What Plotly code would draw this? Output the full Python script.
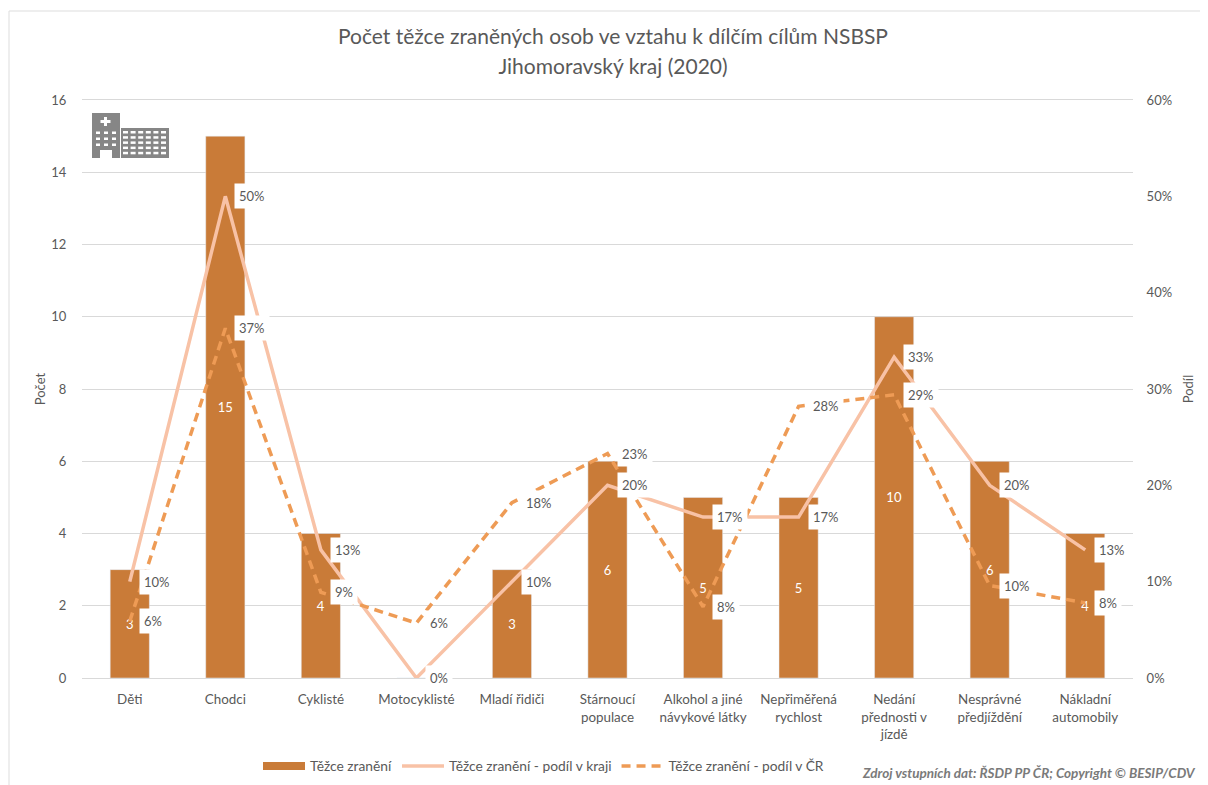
import plotly.graph_objects as go

categories = ["Děti", "Chodci", "Cyklisté", "Motocyklisté", "Mladí řidiči", "Stárnoucí<br>populace",
              "Alkohol a jiné<br>návykové látky", "Nepřiměřená<br>rychlost", "Nedání<br>přednosti v<br>jízdě",
              "Nesprávné<br>předjíždění", "Nákladní<br>automobily"]
injured = [3, 15, 4, 0, 3, 6, 5, 5, 10, 6, 4]
share_region = [0.10, 0.50, 0.133, 0.0, 0.10, 0.20, 0.167, 0.167, 0.333, 0.20, 0.133]
share_cr = [0.059, 0.363, 0.089, 0.057, 0.182, 0.233, 0.074, 0.282, 0.294, 0.096, 0.078]
labels_region = ["10%", "50%", "13%", "0%", "10%", "20%", "17%", "17%", "33%", "20%", "13%"]
labels_cr = ["6%", "37%", "9%", "6%", "18%", "23%", "8%", "28%", "29%", "10%", "8%"]

FONT = "Lato, 'Open Sans', sans-serif"
TXT = "#595959"
BAR = "#C97B38"
C1 = "#F8C2A6"
C2 = "#EE9B55"
FS = 13

OFF = 8  # page body margin
L, R, T, B = 82, 1133, 100, 678
W, H = 1208 - OFF, 785 - OFF
px = lambda v: (v - L) / (R - L)
py = lambda v: 1 - (v - T) / (B - T)

fig = go.Figure()
fig.add_trace(go.Bar(x=categories, y=injured, marker_color=BAR, width=0.41, showlegend=False,
                     text=[str(v) if v else "" for v in injured], textposition="inside",
                     insidetextanchor="middle", textangle=0,
                     insidetextfont=dict(color="white", size=FS, family=FONT), yaxis="y", cliponaxis=False))
fig.add_trace(go.Scatter(x=[categories[0]], y=[None], mode="lines", name="Těžce zranění",
                         line=dict(color=BAR, width=8)))
fig.add_trace(go.Scatter(x=categories, y=share_region, mode="lines", name="Těžce zranění - podíl v kraji",
                         yaxis="y2", line=dict(color=C1, width=3.5), cliponaxis=False))
fig.add_trace(go.Scatter(x=categories, y=share_cr, mode="lines", name="Těžce zranění - podíl v ČR",
                         yaxis="y2", line=dict(color=C2, width=3.5, dash="9px,6px"), cliponaxis=False))

annotations = []
for vals, labs in ((share_region, labels_region), (share_cr, labels_cr)):
    for c, v, l in zip(categories, vals, labs):
        annotations.append(dict(x=c, y=v, xref="x", yref="y2", text=l, showarrow=False, xanchor="left",
                                xshift=9, yshift=0, bgcolor="white", borderpad=4,
                                font=dict(size=FS, color=TXT, family=FONT)))
annotations.append(dict(x=1, y=0, xref="paper", yref="paper", xanchor="right", yanchor="middle",
                        xshift=65, yshift=-95, showarrow=False,
                        text="<b><i>Zdroj vstupních dat: ŘSDP PP ČR; Copyright © BESIP/CDV</i></b>",
                        font=dict(size=13.5, color="#7a7a7a", family=FONT)))

# hospital pictogram and frame
shapes = [dict(type="line", xref="paper", yref="paper", x0=px(9), x1=px(9), y0=py(11), y1=py(785),
               line=dict(color="#dddddd", width=1), layer="below"),
          dict(type="line", xref="paper", yref="paper", x0=px(9), x1=px(1208), y0=py(11), y1=py(11),
               line=dict(color="#dddddd", width=1), layer="below")]
def rect(x0, y0, x1, y1, col):
    shapes.append(dict(type="rect", xref="paper", yref="paper", x0=px(x0), x1=px(x1), y0=py(y0), y1=py(y1),
                       fillcolor=col, line=dict(width=0), layer="above"))
G = "#868686"
rect(92, 113, 120, 158, G)
rect(121, 128, 169, 158, G)
rect(100.5, 120, 110.5, 123, "white")
rect(104, 117, 107, 126, "white")
for r in range(3):
    for c in range(3):
        rect(96 + c * 8, 131.5 + r * 6, 100 + c * 8, 134 + r * 6, "white")
rect(100, 150, 112, 158, "white")
for r in range(5):
    for c in range(6):
        rect(123 + c * 7.6, 131 + r * 5.2, 128 + c * 7.6, 133.5 + r * 5.2, "white")

fig.update_layout(
    width=W, height=H, margin=dict(l=L - OFF, r=1208 - R, t=T - OFF, b=785 - B, autoexpand=False),
    paper_bgcolor="white", plot_bgcolor="white", font=dict(family=FONT, color=TXT, size=FS),
    title=dict(text='<span style="font-size:21px">Počet těžce zraněných osob ve vztahu k dílčím cílům NSBSP</span>'
                    '<br><span style="font-size:21px">Jihomoravský kraj (2020)</span>',
               x=(613 - OFF) / W, xanchor="center", y=1 - (44 - OFF) / H, yanchor="middle",
               font=dict(size=23, color=TXT, family=FONT)),
    xaxis=dict(type="category", categoryorder="array", categoryarray=categories, showgrid=False,
               showline=True, mirror=True, linecolor="#d9d9d9", linewidth=1, ticks="outside", ticklen=9,
               tickcolor="rgba(0,0,0,0)", tickangle=0, tickfont=dict(size=13.4, color=TXT, family=FONT)),
    yaxis=dict(range=[0, 16], dtick=2, showgrid=True, gridcolor="#d9d9d9", gridwidth=1, zeroline=False,
               ticks="outside", ticklen=12, tickcolor="rgba(0,0,0,0)", tickfont=dict(size=FS),
               title=dict(text="Počet", standoff=2, font=dict(size=FS, color=TXT, family=FONT))),
    yaxis2=dict(range=[0, 0.6], dtick=0.1, tickformat=".0%", overlaying="y", side="right", showgrid=False,
                zeroline=False, ticks="outside", ticklen=10, tickcolor="rgba(0,0,0,0)", tickfont=dict(size=FS),
                title=dict(text="Podíl", standoff=12, font=dict(size=FS, color=TXT, family=FONT))),
    legend=dict(orientation="h", x=(543.5 - L) / (R - L), y=py(766), xanchor="center", yanchor="middle",
                itemwidth=42, font=dict(size=13.8, color=TXT, family=FONT), bgcolor="rgba(0,0,0,0)"),
    annotations=annotations, shapes=shapes,
)
fig.write_html("out.html")
